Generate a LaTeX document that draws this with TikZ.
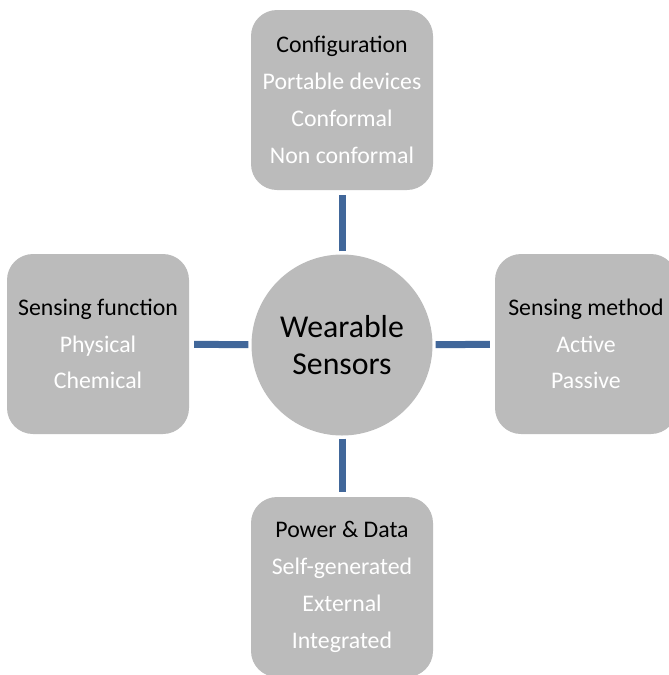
\documentclass[tikz,border=0pt]{standalone}
\usepackage{fontspec}
\setmainfont{Carlito}
\definecolor{boxgray}{RGB}{187,187,187}
\definecolor{linkblue}{RGB}{65,103,154}
\begin{document}
\begin{tikzpicture}[x=1pt,y=1pt]
	\tikzset{box/.style={rectangle, rounded corners=26pt, fill=boxgray, minimum width=182pt, minimum height=180pt, inner sep=0pt, align=center, font=\fontsize{23.8}{36.8}\selectfont}};
	\tikzset{hub/.style={circle, fill=boxgray, minimum size=181pt, inner sep=0pt, align=center, font=\fontsize{31.8}{37}\selectfont}};
	\tikzset{link/.style={linkblue, line width=7pt, shorten <=3pt, shorten >=5pt}};
	\clip (0,0) rectangle (669,-675);

	\node[hub] (W) at (342,-345) {Wearable\\Sensors};
	\node[box] (C) at (342,-100) {Configuration\\\textcolor{white}{Portable devices}\\\textcolor{white}{Conformal}\\\textcolor{white}{Non conformal}};
	\node[box] (F) at (98,-344) {Sensing function\\\textcolor{white}{Physical}\\\textcolor{white}{Chemical}};
	\node[box] (M) at (586,-344) {Sensing method\\\textcolor{white}{Active}\\\textcolor{white}{Passive}};
	\node[box] (P) at (342,-587) {Power \& Data\\\textcolor{white}{Self-generated}\\\textcolor{white}{External}\\\textcolor{white}{Integrated}};

	\draw[link] (W) -- (C);
	\draw[link] (W) -- (F);
	\draw[link] (W) -- (M);
	\draw[link] (W) -- (P);
\end{tikzpicture}
\end{document}
